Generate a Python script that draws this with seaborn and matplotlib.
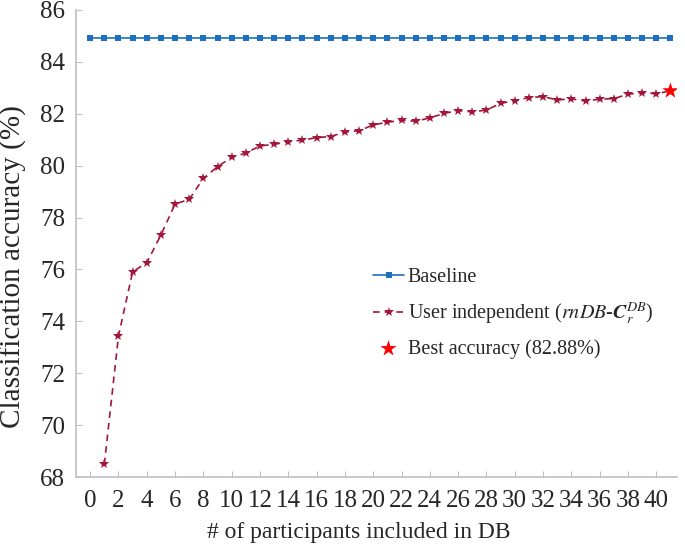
import numpy as np
import pandas as pd
import matplotlib
matplotlib.use("Agg")
import matplotlib.pyplot as plt
import seaborn as sns

# data
participants = list(range(0, 42))
baseline = [84.92] * 42
user_indep = [np.nan,
              68.49, 73.44, 75.91, 76.26, 77.33, 78.52, 78.70, 79.51, 79.96, 80.32,
              80.48, 80.76, 80.82, 80.92, 80.98, 81.08, 81.12, 81.30, 81.34, 81.57,
              81.67, 81.75, 81.71, 81.84, 82.01, 82.12, 82.07, 82.14, 82.40, 82.50,
              82.62, 82.66, 82.53, 82.57, 82.49, 82.56, 82.58, 82.75, 82.81, 82.77,
              82.88]
best_x = [41]
best_y = [82.88]

df = pd.DataFrame({"participants": participants,
                   "baseline": baseline,
                   "user": user_indep})

sns.set_style("ticks")
plt.rcParams['font.family'] = ['Liberation Serif', 'DejaVu Serif']
plt.rcParams['mathtext.fontset'] = 'stix'

fig = plt.figure(figsize=(6.85, 5.49), dpi=100)
ax = fig.add_axes([0.111, 0.131, 0.877, 0.851])

sns.lineplot(data=df, x="participants", y="baseline", ax=ax, color="#1f6fbf",
             marker="s", markersize=4.5, markeredgewidth=0, linewidth=1.2,
             label="Baseline")
sns.lineplot(data=df.dropna(), x="participants", y="user", ax=ax, color="#a3173a",
             marker="*", markersize=7, markeredgewidth=0, linewidth=1.2,
             dashes=(4, 3), label=r"User independent ($rnDB$-$\boldsymbol{C}_{r}^{DB}$)")
sns.scatterplot(x=best_x, y=best_y, ax=ax, color="#ff0000", marker="*", s=150,
                edgecolor="none", zorder=5, label="Best accuracy (82.88%)")

ax.set_xlim(-1, 41.45)
ax.set_ylim(68, 86)
ax.set_xticks(range(0, 41, 2))
ax.set_yticks(range(68, 87, 2))
ax.tick_params(axis="both", direction="in", length=4, color="#bfbfbf",
               labelsize=18, pad=8)
ax.tick_params(axis="x", pad=9)
for s in ["top", "right"]:
    ax.spines[s].set_visible(False)
for s in ["left", "bottom"]:
    ax.spines[s].set_color("#bfbfbf")
    ax.spines[s].set_linewidth(1.2)

ax.set_xlabel("# of participants included in DB", fontsize=17)
ax.xaxis.set_label_coords(0.47, -0.097)
ax.set_ylabel("Classification accuracy (%)", fontsize=21)
ax.yaxis.set_label_coords(-0.082, 0.45)

ax.legend(loc="upper left", bbox_to_anchor=(0.495, 0.447), frameon=False,
          fontsize=14.5, handlelength=1.5, handletextpad=0.2, labelspacing=0.65,
          borderpad=0, borderaxespad=0)

fig.savefig("out.png", dpi=100)
